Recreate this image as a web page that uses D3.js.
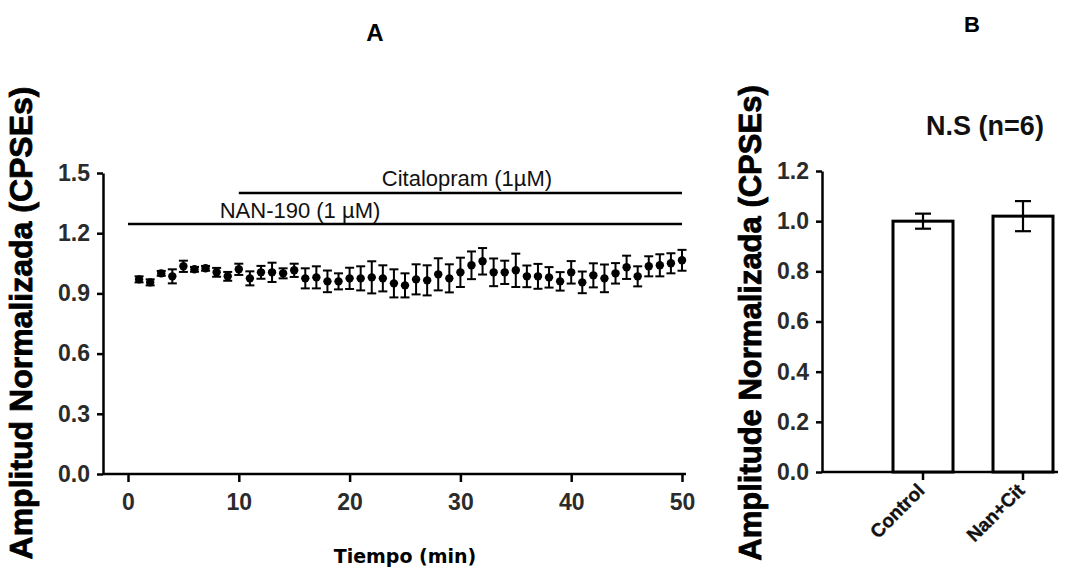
<!DOCTYPE html>
<html>
<head>
<meta charset="utf-8">
<script src="https://cdn.jsdelivr.net/npm/d3@7"></script>
<style>
  html, body { margin: 0; padding: 0; background: #fff; }
  svg { display: block; }
  text { font-family: "Liberation Sans", Arial, sans-serif; }
  .tk { font-family: "Liberation Sans Narrow", "Arial Narrow", "Liberation Sans", sans-serif; }
</style>
</head>
<body>
<svg id="chart" width="1067" height="572"></svg>
<script>
// Panel A: normalized amplitude over time (mean ± SEM)
const timeMin = d3.range(1, 51);
const ampMean = [
  0.970, 0.955, 1.000, 0.985, 1.035, 1.020, 1.025, 1.005, 0.985, 1.020,
  0.975, 1.005, 1.005, 1.000, 1.015, 0.975, 0.980, 0.960, 0.960, 0.975,
  0.975, 0.980, 0.975, 0.950, 0.940, 0.970, 0.965, 0.995, 0.975, 1.005,
  1.040, 1.060, 1.005, 1.005, 1.015, 0.985, 0.985, 0.980, 0.960, 1.005,
  0.955, 0.990, 0.975, 1.000, 1.030, 0.985, 1.035, 1.040, 1.050, 1.065
];
const ampSem = [
  0.015, 0.015, 0.012, 0.035, 0.028, 0.012, 0.012, 0.022, 0.022, 0.028,
  0.035, 0.032, 0.048, 0.025, 0.033, 0.050, 0.055, 0.054, 0.040, 0.053,
  0.060, 0.080, 0.065, 0.070, 0.060, 0.075, 0.075, 0.080, 0.070, 0.073,
  0.069, 0.066, 0.069, 0.058, 0.083, 0.054, 0.062, 0.051, 0.046, 0.056,
  0.054, 0.060, 0.069, 0.051, 0.058, 0.050, 0.050, 0.055, 0.050, 0.052
];
const timeTicks = [0, 10, 20, 30, 40, 50];
const ampTicksA = [0.0, 0.3, 0.6, 0.9, 1.2, 1.5];

// drug application periods (min)
const drugLabels = ["NAN-190 (1 µM)", "Citalopram (1µM)"];
const drugStart = [0, 10];
const drugEnd = [50, 50];

// Panel B: summary bars
const groups = ["Control", "Nan+Cit"];
const groupMean = [1.00, 1.02];
const groupSem = [0.03, 0.06];
const ampTicksB = [0.0, 0.2, 0.4, 0.6, 0.8, 1.0, 1.2];

const svg = d3.select("#chart");

function styleAxis(ax, size) {
  ax.select(".domain").attr("stroke", "#000").attr("stroke-width", 2.5);
  ax.selectAll(".tick line").attr("stroke", "#000").attr("stroke-width", 2.5);
  ax.selectAll(".tick text").attr("class", "tk").attr("fill", "#2b2b2b")
    .style("font-size", size + "px").style("font-weight", "bold");
}

// ---------- Panel A ----------
const xA = d3.scaleLinear().domain([0, 50]).range([128, 682]);
const yA = d3.scaleLinear().domain([0, 1.5]).range([474, 173]);

const gA = svg.append("g");

const yAxisA = gA.append("g")
  .attr("transform", "translate(103,0)")
  .call(d3.axisLeft(yA).tickValues(ampTicksA).tickFormat(d3.format(".1f"))
    .tickSize(6).tickPadding(7).tickSizeOuter(0));
const xAxisA = gA.append("g")
  .attr("transform", "translate(0,474)")
  .call(d3.axisBottom(xA).tickValues(timeTicks).tickFormat(d3.format("d"))
    .tickSize(8).tickPadding(12).tickSizeOuter(0));
xAxisA.select(".domain").attr("d", "M103,0H686");
styleAxis(yAxisA, 23);
styleAxis(xAxisA, 23);

// drug application bars
const drugY = [224, 193];
drugLabels.forEach((lbl, i) => {
  gA.append("line")
    .attr("x1", xA(drugStart[i])).attr("x2", xA(drugEnd[i]))
    .attr("y1", drugY[i]).attr("y2", drugY[i])
    .attr("stroke", "#000").attr("stroke-width", 2.5);
});
gA.append("text").attr("x", 300).attr("y", drugY[0] - 6)
  .attr("text-anchor", "middle").style("font-size", "22px").attr("fill", "#111")
  .text(drugLabels[0]);
gA.append("text").attr("x", 467).attr("y", drugY[1] - 7)
  .attr("text-anchor", "middle").style("font-size", "22px").attr("fill", "#111")
  .text(drugLabels[1]);

// error bars + points
const pts = timeMin.map((t, i) => ({ t, m: ampMean[i], e: ampSem[i] }));
const eb = gA.append("g").attr("stroke", "#000").attr("stroke-width", 2);
eb.selectAll("line.v").data(pts).join("line")
  .attr("x1", d => xA(d.t)).attr("x2", d => xA(d.t))
  .attr("y1", d => yA(d.m + d.e)).attr("y2", d => yA(d.m - d.e));
eb.selectAll("line.top").data(pts).join("line")
  .attr("x1", d => xA(d.t) - 4.5).attr("x2", d => xA(d.t) + 4.5)
  .attr("y1", d => yA(d.m + d.e)).attr("y2", d => yA(d.m + d.e));
eb.selectAll("line.bot").data(pts).join("line")
  .attr("x1", d => xA(d.t) - 4.5).attr("x2", d => xA(d.t) + 4.5)
  .attr("y1", d => yA(d.m - d.e)).attr("y2", d => yA(d.m - d.e));
gA.append("g").selectAll("circle").data(pts).join("circle")
  .attr("cx", d => xA(d.t)).attr("cy", d => yA(d.m)).attr("r", 4.2)
  .attr("fill", "#000");

// titles
gA.append("text").attr("x", 375).attr("y", 41).attr("text-anchor", "middle")
  .style("font-size", "24px").style("font-weight", "bold").text("A");
gA.append("text").attr("x", 405).attr("y", 563).attr("text-anchor", "middle")
  .style("font-family", "'DejaVu Sans', sans-serif")
  .style("font-size", "19px").style("font-weight", "bold").text("Tiempo (min)");
gA.append("text").attr("transform", "translate(32,323) rotate(-90)")
  .attr("text-anchor", "middle")
  .attr("stroke", "#000").attr("stroke-width", 0.8)
  .style("font-size", "32px").style("font-weight", "bold")
  .text("Amplitud Normalizada (CPSEs)");

// ---------- Panel B ----------
const xB = d3.scaleBand().domain(groups).range([873, 1073])
  .paddingInner(0.4).paddingOuter(0.2);
const yB = d3.scaleLinear().domain([0, 1.2]).range([472, 171]);

const gB = svg.append("g");
const yAxisB = gB.append("g")
  .attr("transform", "translate(822,0)")
  .call(d3.axisLeft(yB).tickValues(ampTicksB).tickFormat(d3.format(".1f"))
    .tickSize(6).tickPadding(7).tickSizeOuter(0));
const xAxisB = gB.append("g")
  .attr("transform", "translate(0,472)")
  .call(d3.axisBottom(xB).tickSize(8).tickSizeOuter(0));
xAxisB.select(".domain").attr("d", "M822,0H1058");
styleAxis(yAxisB, 23);
styleAxis(xAxisB, 19);
xAxisB.selectAll(".tick text")
  .attr("class", null)
  .attr("fill", "#111")
  .attr("stroke", "#111").attr("stroke-width", 0.4)
  .style("font-size", "19px").style("font-weight", "bold")
  .attr("text-anchor", "end")
  .attr("x", 0).attr("y", 0).attr("dy", "0.35em")
  .attr("transform", "translate(-2,15) rotate(-45)");

const bars = groups.map((g, i) => ({ g, m: groupMean[i], e: groupSem[i] }));
gB.append("g").selectAll("rect").data(bars).join("rect")
  .attr("x", d => xB(d.g)).attr("width", xB.bandwidth())
  .attr("y", d => yB(d.m)).attr("height", d => yB(0) - yB(d.m))
  .attr("fill", "#fff").attr("stroke", "#000").attr("stroke-width", 3);
const cx = d => xB(d.g) + xB.bandwidth() / 2;
const ebB = gB.append("g").attr("stroke", "#000").attr("stroke-width", 2.2);
ebB.selectAll("line.v").data(bars).join("line")
  .attr("x1", cx).attr("x2", cx)
  .attr("y1", d => yB(d.m + d.e)).attr("y2", d => yB(d.m - d.e));
ebB.selectAll("line.t").data(bars).join("line")
  .attr("x1", d => cx(d) - 8).attr("x2", d => cx(d) + 8)
  .attr("y1", d => yB(d.m + d.e)).attr("y2", d => yB(d.m + d.e));
ebB.selectAll("line.b").data(bars).join("line")
  .attr("x1", d => cx(d) - 8).attr("x2", d => cx(d) + 8)
  .attr("y1", d => yB(d.m - d.e)).attr("y2", d => yB(d.m - d.e));

gB.append("text").attr("x", 972).attr("y", 32).attr("text-anchor", "middle")
  .style("font-size", "22px").style("font-weight", "bold").text("B");
gB.append("text").attr("x", 985).attr("y", 135).attr("text-anchor", "middle")
  .style("font-size", "27px").style("font-weight", "bold").attr("fill", "#111")
  .text("N.S (n=6)");
gB.append("text").attr("transform", "translate(761,323) rotate(-90)")
  .attr("text-anchor", "middle")
  .attr("stroke", "#000").attr("stroke-width", 0.8)
  .style("font-size", "31px").style("font-weight", "bold")
  .text("Amplitude Normalizada (CPSEs)");
</script>
</body>
</html>
